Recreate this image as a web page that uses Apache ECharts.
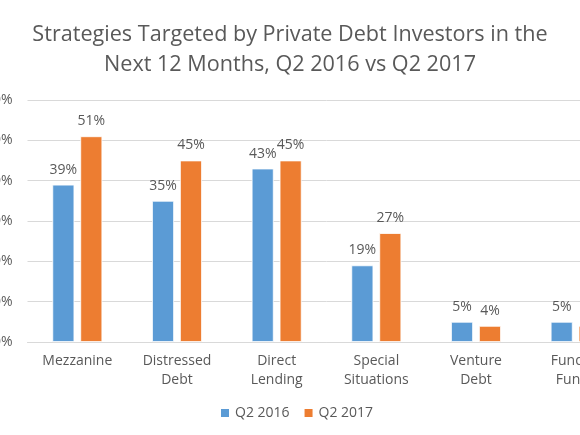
<!DOCTYPE html>
<html>
<head>
<meta charset="utf-8">
<script src="https://cdn.jsdelivr.net/npm/echarts@6/dist/echarts.min.js"></script>
<style>
html,body{margin:0;padding:0;background:#fff;overflow:hidden;width:580px;height:435px;}
#chart{position:absolute;left:-60px;top:0;width:700px;height:435px;}
</style>
</head>
<body>
<div id="chart"></div>
<script>
const categories = ['Mezzanine', 'Distressed\nDebt', 'Direct\nLending', 'Special\nSituations', 'Venture\nDebt', 'Fund of\nFunds'];
const q2_2016 = [39, 35, 43, 19, 5, 5];
const q2_2017 = [51, 45, 45, 27, 4, 4];
const seriesNames = ['Q2 2016', 'Q2 2017'];
const yTicks = {min: 0, max: 60, interval: 10};

const txt = '#595959';
const font = '"Open Sans", Lato, sans-serif';
const chart = echarts.init(document.getElementById('chart'), null, {renderer: 'canvas'});
const labelCfg = {
  show: true, position: 'top', distance: 8,
  formatter: '{c}%', color: txt, fontSize: 14, fontFamily: font
};
chart.setOption({
  animation: false,
  backgroundColor: '#fff',
  title: {
    text: 'Strategies Targeted by Private Debt Investors in the\nNext 12 Months, Q2 2016 vs Q2 2017',
    left: 'center', top: 15,
    textStyle: {color: txt, fontSize: 21.6, fontWeight: 'normal', lineHeight: 30, fontFamily: font}
  },
  legend: {
    data: seriesNames,
    left: 274, top: 401,
    itemWidth: 10, itemHeight: 10, itemGap: 13,
    icon: 'rect',
    textStyle: {color: txt, fontSize: 14, fontFamily: font}
  },
  grid: {left: 87.5, right: 14.5, top: 100, bottom: 93, containLabel: false, outerBoundsMode: 'none'},
  xAxis: {
    type: 'category',
    data: categories,
    axisLine: {show: true, lineStyle: {color: '#D9D9D9', width: 1}},
    axisTick: {show: false},
    axisLabel: {color: txt, fontSize: 14, lineHeight: 19, margin: 10, fontFamily: font, interval: 0}
  },
  yAxis: {
    type: 'value',
    min: yTicks.min, max: yTicks.max, interval: yTicks.interval,
    axisLine: {show: false},
    axisTick: {show: false},
    axisLabel: {formatter: '{value}%', color: txt, fontSize: 14, margin: 15, fontFamily: font},
    splitLine: {lineStyle: {color: '#D9D9D9', width: 1}}
  },
  series: [
    {
      name: seriesNames[0], type: 'bar', data: q2_2016,
      barWidth: 22, barGap: '27%',
      itemStyle: {color: '#5B9BD5', borderColor: '#fff', borderWidth: 0.8},
      label: labelCfg
    },
    {
      name: seriesNames[1], type: 'bar', data: q2_2017,
      barWidth: 22, barGap: '27%',
      itemStyle: {color: '#ED7D31', borderColor: '#fff', borderWidth: 0.8},
      label: labelCfg
    }
  ]
});
</script>
</body>
</html>
